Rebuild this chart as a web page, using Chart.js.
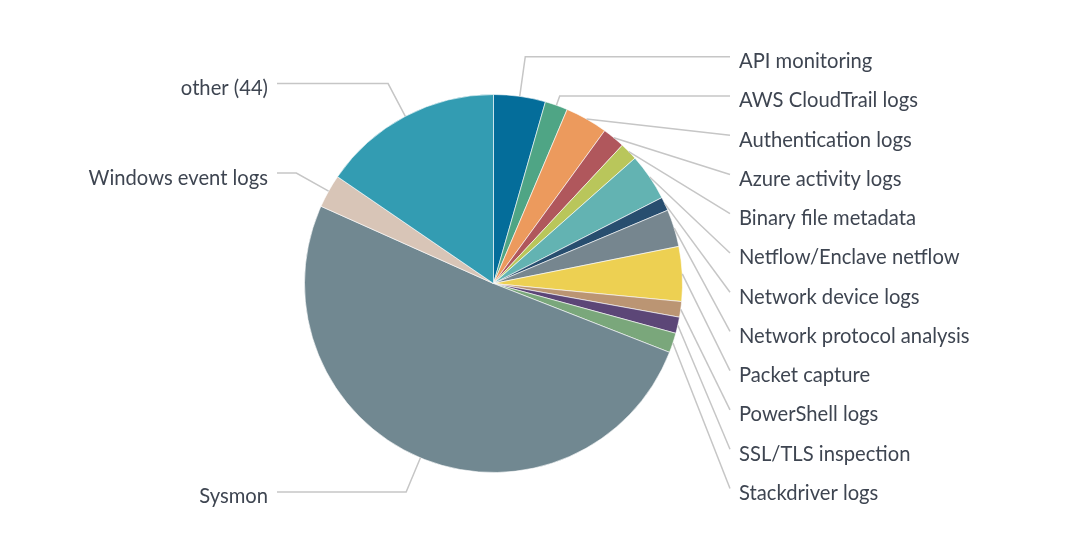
<!DOCTYPE html>
<html>
<head>
<meta charset="utf-8">
<script src="https://cdn.jsdelivr.net/npm/chart.js@4.4.1/dist/chart.umd.min.js"></script>
<style>
  html, body { margin: 0; padding: 0; background: #ffffff; }
  #wrap { width: 1082px; height: 546px; }
</style>
</head>
<body>
<div id="wrap"><canvas id="c" width="1082" height="546"></canvas></div>
<script>
// ---- data ----
const categories = [
  "API monitoring",
  "AWS CloudTrail logs",
  "Authentication logs",
  "Azure activity logs",
  "Binary file metadata",
  "Netflow/Enclave netflow",
  "Network device logs",
  "Network protocol analysis",
  "Packet capture",
  "PowerShell logs",
  "SSL/TLS inspection",
  "Stackdriver logs",
  "Sysmon",
  "Windows event logs",
  "other (44)"
];
const values = [4.43, 1.94, 3.64, 1.92, 1.53, 4.03, 1.17, 3.19, 4.67, 1.33, 1.39, 1.69, 50.75, 2.86, 15.44];
const colors = [
  "#046d9a", "#4fa585", "#ec9a5d", "#b0575c", "#b9c65b", "#63b3b2",
  "#284e6f", "#76868f", "#edd052", "#bb9573", "#5c4677", "#7aa77b",
  "#718891", "#d8c5b7", "#339cb2"
];

// ---- layout constants ----
const FONT = '20.2px Lato';
const TEXT_COLOR = '#3e4551';
const LINE_COLOR = '#c6c6c6';
const LEADER_R = 226;
const RIGHT_X = 730;      // end of right leader lines
const LEFT_X = 277;       // start of left leader lines
const TEXT_GAP = 9;
const RIGHT_TOP = 56.7;
const RIGHT_STEP = 39.25;
const BASE_OFF = 11.5;

const leaderPlugin = {
  id: 'leaders',
  afterDatasetsDraw(chart) {
    const ctx = chart.ctx;
    const meta = chart.getDatasetMeta(0);
    ctx.save();
    ctx.font = FONT;
    ctx.strokeStyle = LINE_COLOR;
    ctx.lineWidth = 1.5;
    ctx.fillStyle = TEXT_COLOR;
    let rightIdx = 0;
    meta.data.forEach((arc, i) => {
      const p = arc.getProps(['x', 'y', 'startAngle', 'endAngle', 'outerRadius'], true);
      const a = (p.startAngle + p.endAngle) / 2;
      const ex = p.x + p.outerRadius * Math.cos(a);
      const ey = p.y + p.outerRadius * Math.sin(a);
      const right = Math.cos(a) >= 0;
      let ly;
      if (right) {
        ly = RIGHT_TOP + RIGHT_STEP * rightIdx;
        rightIdx++;
      } else {
        ly = p.y + LEADER_R * Math.sin(a);
      }
      ctx.beginPath();
      ctx.moveTo(ex, ey);
      if ((ly < ey - 0.5 && Math.sin(a) < 0) || !right) {
        // extend radially until label height, then horizontal
        const t = (ly - p.y) / Math.sin(a);
        const bx = p.x + t * Math.cos(a);
        ctx.lineTo(bx, ly);
      }
      ctx.lineTo(right ? RIGHT_X : LEFT_X, ly);
      ctx.stroke();
      ctx.textBaseline = 'alphabetic';
      if (right) {
        ctx.textAlign = 'left';
        ctx.fillText(categories[i], RIGHT_X + TEXT_GAP, ly + BASE_OFF);
      } else {
        ctx.textAlign = 'right';
        ctx.fillText(categories[i], LEFT_X - TEXT_GAP, ly + BASE_OFF);
      }
    });
    ctx.restore();
  }
};

new Chart(document.getElementById('c'), {
  type: 'pie',
  data: {
    labels: categories,
    datasets: [{
      data: values,
      backgroundColor: colors,
      borderColor: 'rgba(255,255,255,0.75)',
      borderWidth: 0.8,
      radius: 189
    }]
  },
  options: {
    responsive: false,
    animation: false,
    layout: { padding: { left: 304.5, right: 399.5, top: 94.5, bottom: 73.5 } },
    plugins: {
      legend: { display: false },
      tooltip: { enabled: false }
    }
  },
  plugins: [leaderPlugin]
});
</script>
</body>
</html>
